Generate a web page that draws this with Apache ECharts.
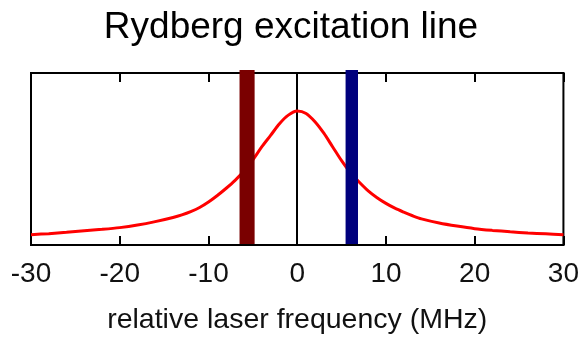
<!DOCTYPE html>
<html>
<head>
<meta charset="utf-8">
<script src="https://cdn.jsdelivr.net/npm/echarts@6/dist/echarts.min.js"></script>
<style>
  html, body { margin: 0; padding: 0; background: #fff; }
  #chart { width: 582px; height: 340px; }
</style>
</head>
<body>
<div id="chart"></div>
<script>
// Excitation line profile (arbitrary units) versus laser detuning in MHz
var detuning = [-30, -28, -26, -24, -22, -20, -18, -16, -14, -13, -12, -11, -10, -9, -8, -7, -6, -5, -4, -3, -2, -1, 0,
                1, 2, 3, 4, 5, 6, 7, 8, 9, 10, 11, 12, 13, 14, 16, 18, 20, 22, 24, 26, 28, 30];
var signal   = [0.060, 0.066, 0.074, 0.083, 0.091, 0.101, 0.116, 0.136, 0.160, 0.175, 0.194, 0.218, 0.250, 0.288, 0.330, 0.376, 0.430, 0.495, 0.570, 0.637, 0.705, 0.755, 0.779,
                0.765, 0.717, 0.650, 0.570, 0.490, 0.420, 0.365, 0.315, 0.275, 0.242, 0.214, 0.191, 0.170, 0.152, 0.128, 0.110, 0.095, 0.085, 0.077, 0.070, 0.065, 0.060];

// Laser frequency bands (MHz)
var bandStart  = [-6.5, 5.45];
var bandEnd    = [-4.8, 6.85];
var bandColors = ['#7a0000', '#00007d'];

// Axis ticks
var xTicks = [-30, -20, -10, 0, 10, 20, 30];
var xMin = -30, xMax = 30, xStep = 10;

var lineData = detuning.map(function (x, i) { return [x, signal[i]]; });
var bandData = bandStart.map(function (s, i) { return [s, bandEnd[i], i]; });

var font = '"Liberation Sans", Arial, Helvetica, sans-serif';
var chart = echarts.init(document.getElementById('chart'), null, { renderer: 'canvas' });

chart.setOption({
  animation: false,
  backgroundColor: '#ffffff',
  title: {
    text: 'Rydberg excitation line',
    left: 'center',
    top: 4,
    textStyle: { fontFamily: font, fontSize: 37, fontWeight: 'normal', color: '#000' }
  },
  grid: {
    left: 31, right: 18, top: 73, bottom: 91,
    show: true, borderColor: '#000', borderWidth: 2, backgroundColor: '#fff'
  },
  xAxis: [{
    type: 'value', min: xMin, max: xMax, interval: xStep, position: 'bottom',
    name: 'relative laser frequency (MHz)', nameLocation: 'middle', nameGap: 61,
    nameTextStyle: { fontFamily: font, fontSize: 28.5, color: '#111' },
    axisLine: { show: true, lineStyle: { color: '#000', width: 2 } },
    axisTick: { show: true, inside: true, length: 9, lineStyle: { color: '#000', width: 2 } },
    axisLabel: {
      fontFamily: font, fontSize: 28, color: '#111', margin: 15,
      formatter: function (v) { return xTicks.indexOf(v) >= 0 ? String(v) : ''; }
    },
    splitLine: { show: false }
  }, {
    type: 'value', min: xMin, max: xMax, interval: xStep, position: 'top',
    axisLine: { show: true, lineStyle: { color: '#000', width: 2 } },
    axisTick: { show: true, inside: true, length: 9, lineStyle: { color: '#000', width: 2 } },
    axisLabel: { show: false },
    splitLine: { show: false }
  }],
  yAxis: {
    type: 'value', min: 0, max: 1,
    axisLine: { show: false }, axisTick: { show: false },
    axisLabel: { show: false }, splitLine: { show: false }
  },
  series: [{
    type: 'line',
    data: lineData,
    smooth: 0.3,
    showSymbol: false,
    lineStyle: { color: '#ff0000', width: 3 },
    z: 3,
    markLine: {
      silent: true,
      symbol: 'none',
      label: { show: false },
      lineStyle: { color: '#000', width: 2, type: 'solid' },
      data: [{ xAxis: 0 }],
      z: 2
    }
  }, {
    type: 'custom',
    data: bandData,
    clip: false,
    z: 5,
    renderItem: function (params, api) {
      var p0 = api.coord([api.value(0), 1]);
      var p1 = api.coord([api.value(1), 0]);
      return {
        type: 'rect',
        shape: { x: p0[0], y: p0[1] - 3, width: p1[0] - p0[0], height: p1[1] - p0[1] + 2 },
        style: { fill: bandColors[api.value(2)] }
      };
    }
  }]
});
</script>
</body>
</html>
